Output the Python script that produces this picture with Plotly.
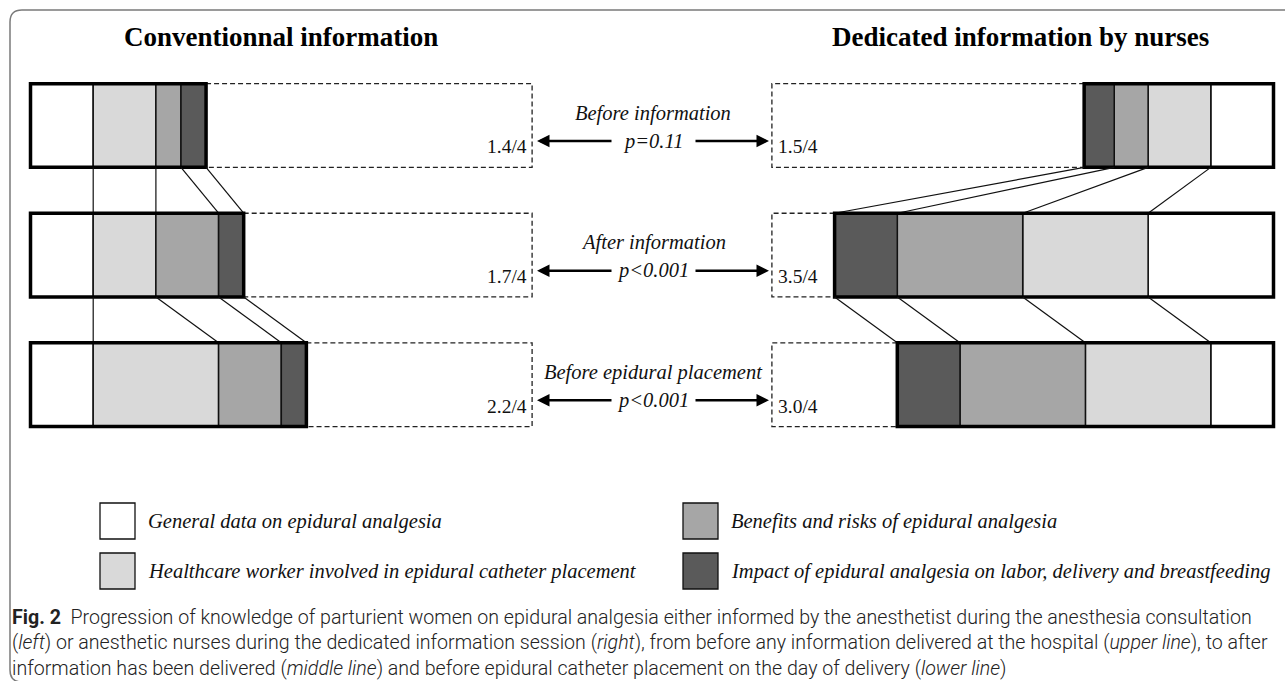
import plotly.graph_objects as go

# ---------------- data ----------------
stages = ["Before information", "After information", "Before epidural placement"]
p_values = ["p=0.11", "p<0.001", "p<0.001"]
topics = [
    "General data on epidural analgesia",
    "Healthcare worker involved in epidural catheter placement",
    "Benefits and risks of epidural analgesia",
    "Impact of epidural analgesia on labor, delivery and breastfeeding",
]
topic_colors = ["#ffffff", "#d9d9d9", "#a6a6a6", "#5a5a5a"]

# score per topic (0-1 each) for each stage, order = topics
conv_general = [0.5, 0.5, 0.5]
conv_worker = [0.5, 0.5, 1.0]
conv_benefits = [0.2, 0.5, 0.5]
conv_impact = [0.2, 0.2, 0.2]
conv_total = ["1.4/4", "1.7/4", "2.2/4"]

ded_general = [0.5, 1.0, 0.5]
ded_worker = [0.5, 1.0, 1.0]
ded_benefits = [0.27, 1.0, 1.0]
ded_impact = [0.24, 0.5, 0.5]
ded_total = ["1.5/4", "3.5/4", "3.0/4"]

max_score = 4
titles = ["Conventionnal information", "Dedicated information by nurses"]

# ---------------- layout constants ----------------
W, H = 1285, 681
S = 125.4          # px per score unit
L0 = 30.5          # px of left anchor
R0 = 1273.5        # px of right anchor
Y0 = 125.5         # px of first row centre
SY = 129.6         # px between rows
HALF = 0.323       # half bar height in row units

SERIF = "Liberation Serif, Times New Roman, serif"
SANS = "Roboto, Open Sans, sans-serif"


def P(x, y):
    return x / W, 1 - y / H


fig = go.Figure()

sides = [
    ("x", [conv_general, conv_worker, conv_benefits, conv_impact], conv_total),
    ("x2", [ded_general, ded_worker, ded_benefits, ded_impact], ded_total),
]

shapes = []
annotations = []

for xref, series, totals in sides:
    bases = [[0.0] * len(stages)]
    for s in series[:-1]:
        bases.append([b + v for b, v in zip(bases[-1], s)])
    cum = [[b + v for b, v in zip(bases[i], series[i])] for i in range(len(series))]
    for i, s in enumerate(series):
        fig.add_trace(go.Bar(
            orientation="h", y=list(range(len(stages))), x=s, base=bases[i],
            width=2 * HALF, xaxis=xref, yaxis="y",
            marker=dict(color=topic_colors[i], line=dict(color="#111111", width=1.5)),
            name=topics[i], showlegend=False, hoverinfo="skip",
        ))
    for r in range(len(stages)):
        tot = cum[-1][r]
        # dashed box up to max score
        shapes.append(dict(type="rect", xref=xref, yref="y", x0=tot, x1=max_score,
                           y0=r - HALF, y1=r + HALF,
                           line=dict(color="#222222", width=1.3, dash="5px,3px")))
        # thick outline
        shapes.append(dict(type="rect", xref=xref, yref="y", x0=0, x1=tot,
                           y0=r - HALF, y1=r + HALF,
                           line=dict(color="#000000", width=3.5)))
        # connectors to next row
        if r < len(stages) - 1:
            for k in range(len(series)):
                shapes.append(dict(type="line", xref=xref, yref="y",
                                   x0=cum[k][r], y0=r + HALF,
                                   x1=cum[k][r + 1], y1=r + 1 - HALF,
                                   line=dict(color="#111111", width=1.2)))
        # score label
        annotations.append(dict(
            xref=xref, yref="y", x=max_score, y=r + 0.165,
            xanchor="right" if xref == "x" else "left", yanchor="middle",
            xshift=-3 if xref == "x" else 4,
            text=totals[r], showarrow=False,
            font=dict(family=SERIF, size=19.5, color="#111111")))

# stage labels, p values and arrows
for r in range(len(stages)):
    annotations.append(dict(xref="paper", yref="y", x=653 / W, y=r - 0.095,
                            xanchor="center", yanchor="middle",
                            text="<i>" + stages[r] + "</i>", showarrow=False,
                            font=dict(family=SERIF, size=20.5, color="#111111")))
    annotations.append(dict(xref="paper", yref="y", x=653 / W, y=r + 0.12,
                            xanchor="center", yanchor="middle",
                            text="<i>" + p_values[r] + "</i>", showarrow=False,
                            font=dict(family=SERIF, size=20.5, color="#111111")))
    for tip, tail in [(537, 613), (769, 694)]:
        annotations.append(dict(xref="paper", yref="y", x=tip / W, y=r + 0.12,
                                ax=tail - tip, ay=0, axref="pixel", ayref="pixel",
                                text="", showarrow=True, arrowhead=2, arrowsize=1,
                                arrowwidth=2.5, arrowcolor="#000000"))

# titles
for cx, t in zip([281, 1021], titles):
    x, y = P(cx, 37)
    annotations.append(dict(xref="paper", yref="paper", x=x, y=y, text="<b>" + t + "</b>",
                            xanchor="center", yanchor="middle",
                            showarrow=False, font=dict(family=SERIF, size=27, color="#000000")))

# legend
leg_pos = [(100, 503), (100, 553), (683, 503), (683, 553)]
for (lx, ly), name, col in zip(leg_pos, topics, topic_colors):
    x0, y0 = P(lx, ly + 36)
    x1, y1 = P(lx + 35, ly)
    shapes.append(dict(type="rect", xref="paper", yref="paper", x0=x0, x1=x1, y0=y0, y1=y1,
                       fillcolor=col, line=dict(color="#111111", width=1.3)))
    tx, ty = P(lx + 46, ly + 18)
    annotations.append(dict(xref="paper", yref="paper", x=tx, y=ty,
                            xanchor="left", yanchor="middle",
                            text="<i>" + name + "</i>", showarrow=False,
                            font=dict(family=SERIF, size=20.5, color="#111111")))

# caption
caption = [
    "<b>Fig. 2</b>  Progression of knowledge of parturient women on epidural analgesia either informed by the anesthetist during the anesthesia consultation",
    "(<i>left</i>) or anesthetic nurses during the dedicated information session (<i>right</i>), from before any information delivered at the hospital (<i>upper line</i>), to after",
    "information has been delivered (<i>middle line</i>) and before epidural catheter placement on the day of delivery (<i>lower line</i>)",
]
for i, line in enumerate(caption):
    x, y = P(10, 617 + 25.5 * i)
    annotations.append(dict(xref="paper", yref="paper", x=x, y=y,
                            xanchor="left", yanchor="middle",
                            text=line, showarrow=False,
                            font=dict(family=SANS, size=19.6, weight=300, color="#222222")))


def pp(x, y):
    a, b = P(x, y)
    return f"{a:.5f},{b:.5f}"


# frame (rounded, left + top)
path = (f"M {pp(1295, 10)} L {pp(22, 10)} Q {pp(10, 10)} {pp(10, 22)} "
        f"L {pp(10, 670)} Q {pp(10, 682)} {pp(22, 682)} L {pp(1295, 682)}")
shapes.append(dict(type="path", xref="paper", yref="paper", path=path,
                   line=dict(color="#7a7a7a", width=1.5)))

fig.update_layout(
    width=W, height=H, autosize=False,
    margin=dict(l=0, r=0, t=0, b=0, pad=0),
    paper_bgcolor="white", plot_bgcolor="white",
    barmode="overlay", showlegend=False,
    xaxis=dict(range=[(0 - L0) / S, (W - L0) / S], visible=False, fixedrange=True),
    xaxis2=dict(range=[(R0 - 0) / S, (R0 - W) / S], visible=False, overlaying="x",
                fixedrange=True),
    yaxis=dict(range=[(H - Y0) / SY, (0 - Y0) / SY], visible=False, fixedrange=True),
    shapes=shapes, annotations=annotations,
)

fig.write_html("out.html", config={"displayModeBar": False},
               post_script="document.body.style.margin='0';document.body.style.overflow='hidden';")
